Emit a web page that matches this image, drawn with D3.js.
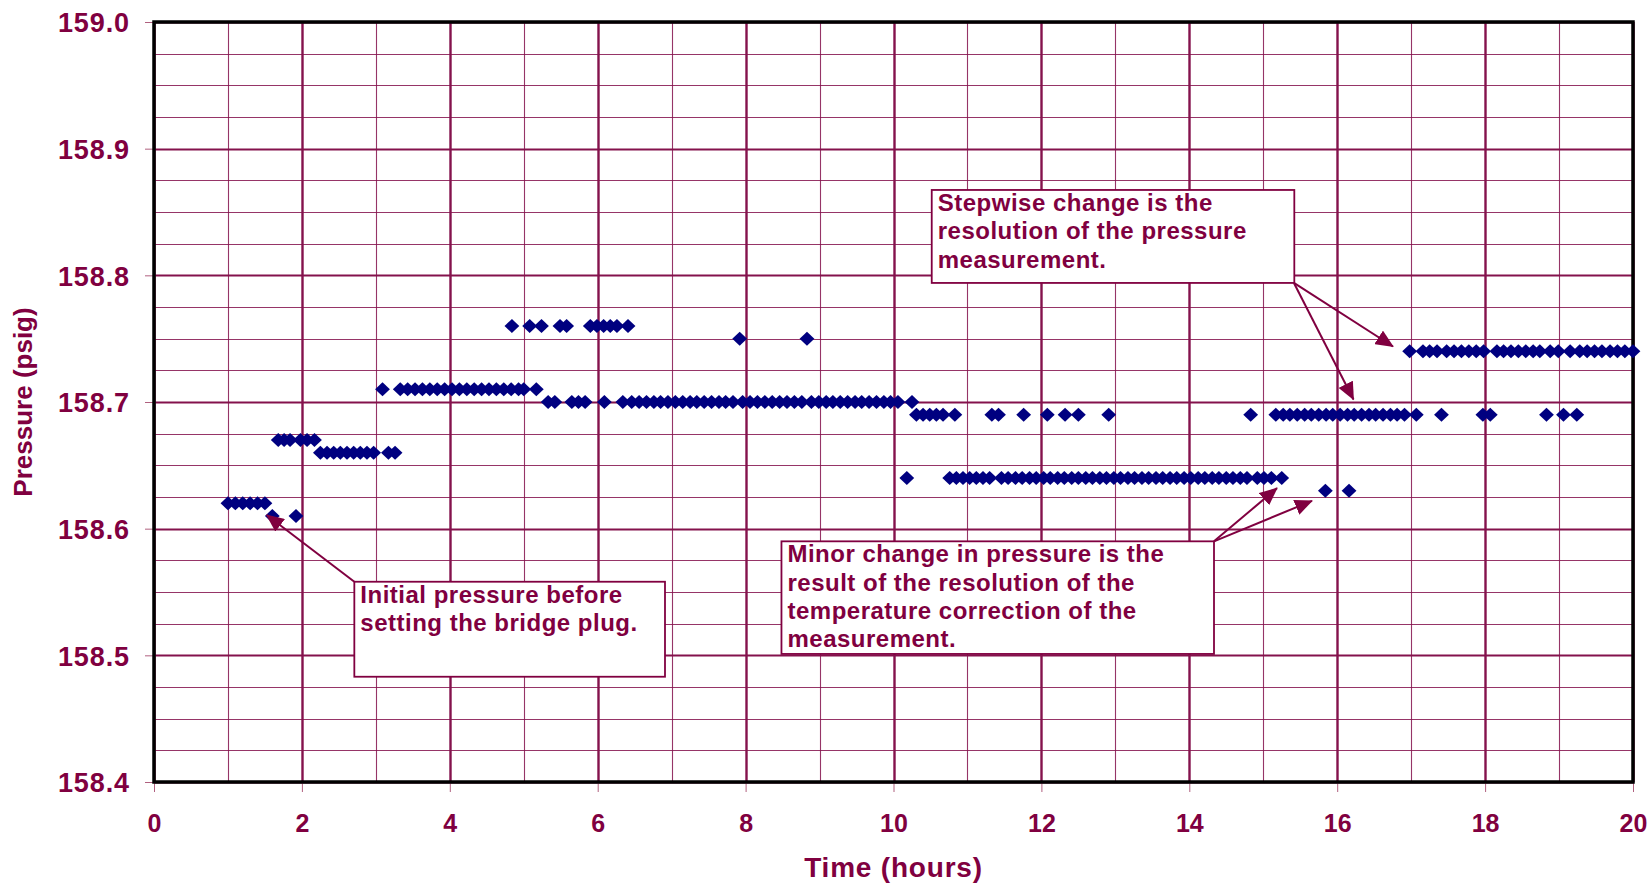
<!DOCTYPE html>
<html><head><meta charset="utf-8">
<script src="https://cdn.jsdelivr.net/npm/d3@7/dist/d3.min.js"></script>
<style>
html,body{margin:0;padding:0;background:#fff;}
svg{display:block;}
text{font-family:"Liberation Sans",Arial,Helvetica,sans-serif;font-weight:bold;fill:#800040;}
</style></head><body>
<svg id="chart" width="1652" height="883"></svg>
<script>
// ---- data: time (hours) of each reading, grouped by recorded pressure (psig) ----
const t_158_61 = [1.60, 1.92];
const t_158_62 = [1.00, 1.10, 1.20, 1.30, 1.40, 1.50];
const t_158_63 = [15.84, 16.16];
const t_158_64 = [10.18, 10.76, 10.85, 10.94, 11.03, 11.12, 11.21, 11.30,
  11.46, 11.55, 11.65, 11.74, 11.84, 11.93, 12.03, 12.12, 12.22, 12.31, 12.41, 12.50,
  12.60, 12.69, 12.79, 12.88, 12.98, 13.07, 13.17, 13.26, 13.36, 13.45, 13.55, 13.64,
  13.74, 13.83, 13.93, 14.02, 14.12, 14.21, 14.31, 14.40, 14.50, 14.59, 14.69, 14.78,
  14.92, 15.01, 15.11, 15.25];
const t_158_66 = [2.25, 2.34, 2.43, 2.52, 2.61, 2.70, 2.79, 2.88, 2.97, 3.17, 3.26];
const t_158_67 = [1.68, 1.76, 1.84, 1.98, 2.07, 2.17];
const t_158_69 = [10.31, 10.40, 10.49, 10.58, 10.67, 10.83, 11.33, 11.42, 11.76, 12.08,
  12.32, 12.50, 12.91, 14.83, 15.17, 15.27, 15.36, 15.46, 15.56, 15.65, 15.75, 15.85,
  15.94, 16.04, 16.14, 16.23, 16.33, 16.43, 16.52, 16.62, 16.72, 16.81, 16.91, 17.07,
  17.41, 17.97, 18.07, 18.83, 19.06, 19.24];
const t_158_70 = [5.33, 5.42, 5.65, 5.74, 5.83, 6.09, 6.34, 6.46, 6.56, 6.66, 6.76, 6.85,
  6.95, 7.05, 7.15, 7.25, 7.34, 7.44, 7.54, 7.64, 7.73, 7.83, 7.96, 8.06, 8.16, 8.26,
  8.36, 8.46, 8.56, 8.66, 8.76, 8.89, 8.99, 9.09, 9.18, 9.28, 9.38, 9.48, 9.57, 9.67,
  9.77, 9.87, 9.96, 10.06, 10.25];
const t_158_71 = [3.09, 3.33, 3.43, 3.53, 3.63, 3.73, 3.83, 3.93, 4.03, 4.13, 4.23, 4.33,
  4.43, 4.53, 4.63, 4.73, 4.83, 4.93, 5.00, 5.17];
const t_158_74 = [16.98, 17.16, 17.25, 17.35, 17.48, 17.58, 17.68, 17.78, 17.88, 17.98,
  18.16, 18.25, 18.35, 18.45, 18.55, 18.65, 18.74, 18.88, 18.99, 19.15, 19.28, 19.38,
  19.48, 19.58, 19.69, 19.79, 19.89, 20.00];
const t_158_75 = [7.92, 8.83];
const t_158_76 = [4.84, 5.08, 5.24, 5.49, 5.58, 5.90, 5.99, 6.08, 6.17, 6.26, 6.41];

const pressureLevels = [158.61, 158.62, 158.63, 158.64, 158.66, 158.67, 158.69, 158.70, 158.71, 158.74, 158.75, 158.76];
const timesByLevel = [t_158_61, t_158_62, t_158_63, t_158_64, t_158_66, t_158_67, t_158_69, t_158_70, t_158_71, t_158_74, t_158_75, t_158_76];

const xTickValues = [0, 2, 4, 6, 8, 10, 12, 14, 16, 18, 20];
const yTickValues = [158.4, 158.5, 158.6, 158.7, 158.8, 158.9, 159.0];
const yTickLabels = ["158.4", "158.5", "158.6", "158.7", "158.8", "158.9", "159.0"];
const xTitle = "Time (hours)";
const yTitle = "Pressure (psig)";

// annotations (positions in data units: hours, psig)
const noteLines = [
  ["Initial pressure before", "setting the bridge plug."],
  ["Stepwise change is the", "resolution of the pressure", "measurement."],
  ["Minor change in pressure is the", "result of the resolution of the", "temperature correction of the", "measurement."]
];
const noteBoxes = [ // [x0, x1, yTop, yBottom]
  [2.709, 6.910, 158.5581, 158.4831],
  [10.517, 15.420, 158.8674, 158.7940],
  [8.485, 14.334, 158.5900, 158.5011]
];
const noteArrows = [ // [[fromX, fromY], [toX, toY]]
  [[2.709, 158.5581], [1.524, 158.6108]],
  [[15.415, 158.7940], [16.754, 158.7438]],
  [[15.415, 158.7940], [16.220, 158.7020]],
  [[14.334, 158.5900], [15.186, 158.6320]],
  [[14.334, 158.5900], [15.659, 158.6220]]
];

// ---- drawing ----
const W = 1652, H = 883;
const m = {left: 154, top: 22, right: 19, bottom: 101};
const iw = W - m.left - m.right, ih = H - m.top - m.bottom;
const svg = d3.select("#chart");
const gridColor = "#84124c";
const x = d3.scaleLinear().domain([0, 20]).range([0, iw]);
const y = d3.scaleLinear().domain([158.4, 159.0]).range([ih, 0]);

const defs = svg.append("defs");
defs.append("marker").attr("id", "ah").attr("markerUnits", "userSpaceOnUse")
  .attr("viewBox", "0 0 18 16").attr("markerWidth", 18).attr("markerHeight", 16)
  .attr("refX", 17).attr("refY", 8).attr("orient", "auto")
  .append("path").attr("d", "M0,0 L18,8 L0,16 Z").attr("fill", "#800040");

const g = svg.append("g").attr("transform", `translate(${m.left},${m.top})`);
g.append("rect").attr("width", iw).attr("height", ih).attr("fill", "#fff");

// grid
const yMinor = d3.range(0, 25).map(i => 158.4 + i * 0.025);
g.append("g").selectAll("line").data(yMinor).join("line")
  .attr("x1", 0).attr("x2", iw)
  .attr("y1", d => Math.round(y(d)) + 0.5).attr("y2", d => Math.round(y(d)) + 0.5)
  .attr("stroke", gridColor)
  .attr("stroke-width", (d, i) => i % 4 === 0 ? 2.2 : 1.1)
  .attr("stroke-opacity", (d, i) => i % 4 === 0 ? 1 : 0.85);
const xMinor = d3.range(0, 21);
g.append("g").selectAll("line").data(xMinor).join("line")
  .attr("y1", 0).attr("y2", ih)
  .attr("x1", d => Math.round(x(d)) + 0.5).attr("x2", d => Math.round(x(d)) + 0.5)
  .attr("stroke", gridColor)
  .attr("stroke-width", d => d % 2 === 0 ? 2.4 : 1.1)
  .attr("stroke-opacity", d => d % 2 === 0 ? 1 : 0.85);

// axes
const yAxis = d3.axisLeft(y).tickValues(yTickValues).tickFormat((d, i) => yTickLabels[i])
  .tickSize(9).tickPadding(16);
const yg = g.append("g").call(yAxis);
yg.select(".domain").remove();
yg.selectAll("line").attr("stroke", "#b0607f");
yg.selectAll("text").attr("font-size", 27).attr("letter-spacing", "0.9px")
  .attr("fill", "#800040").attr("dy", "0.36em").attr("dx", "1px")
  .style("font-family", '"Liberation Sans",Arial,sans-serif').style("font-weight", "bold");

const xAxis = d3.axisBottom(x).tickValues(xTickValues).tickFormat(d3.format("d"))
  .tickSize(10).tickPadding(22);
const xg = g.append("g").attr("transform", `translate(0,${ih})`).call(xAxis);
xg.select(".domain").remove();
xg.selectAll("line").attr("stroke", "#b0607f");
xg.selectAll("text").attr("font-size", 25).attr("fill", "#800040").attr("dy", "0.71em")
  .style("font-family", '"Liberation Sans",Arial,sans-serif').style("font-weight", "bold");

// frame
g.append("rect").attr("width", iw).attr("height", ih).attr("fill", "none")
  .attr("stroke", "#000").attr("stroke-width", 3.5);

// titles
svg.append("text").attr("x", m.left + iw / 2).attr("y", 877).attr("text-anchor", "middle")
  .attr("font-size", 28).attr("letter-spacing", "0.8px").text(xTitle);
svg.append("text").attr("transform", `translate(32,${m.top + ih / 2}) rotate(-90)`)
  .attr("text-anchor", "middle").attr("font-size", 26).text(yTitle);

// points
const points = [];
pressureLevels.forEach((p, i) => timesByLevel[i].forEach(t => points.push({t, p})));
g.append("g").selectAll("path").data(points).join("path")
  .attr("transform", d => `translate(${x(d.t)},${y(d.p)})`)
  .attr("d", "M0,-7 L7.4,0 L0,7 L-7.4,0 Z")
  .attr("fill", "#000080");

// annotation arrows
g.append("g").selectAll("line").data(noteArrows).join("line")
  .attr("x1", d => x(d[0][0])).attr("y1", d => y(d[0][1]))
  .attr("x2", d => x(d[1][0])).attr("y2", d => y(d[1][1]))
  .attr("stroke", "#800040").attr("stroke-width", 2).attr("marker-end", "url(#ah)");

// annotation boxes
const notes = g.append("g").selectAll("g").data(noteBoxes).join("g");
notes.append("rect")
  .attr("x", d => x(d[0])).attr("y", d => y(d[2]))
  .attr("width", d => x(d[1]) - x(d[0])).attr("height", d => y(d[3]) - y(d[2]))
  .attr("fill", "#fff").attr("stroke", "#800040").attr("stroke-width", 1.8);
notes.each(function(d, i) {
  const tx = d3.select(this).append("text")
    .attr("x", x(d[0]) + 6).attr("y", y(d[2]) + 21)
    .attr("font-size", 24).attr("letter-spacing", "0.5px");
  tx.selectAll("tspan").data(noteLines[i]).join("tspan")
    .attr("x", x(d[0]) + 6).attr("dy", (s, j) => j === 0 ? 0 : 28.3).text(s => s);
});
</script>
</body></html>
